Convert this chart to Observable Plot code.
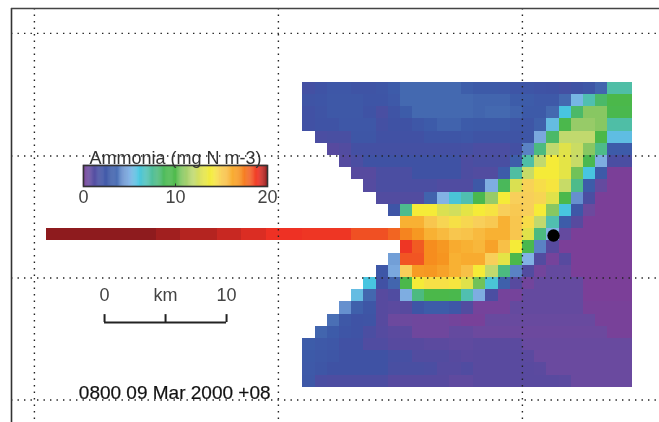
<!DOCTYPE html>
<html>
<head>
<meta charset="utf-8">
<script src="https://cdn.jsdelivr.net/npm/d3@7"></script>
<script src="https://cdn.jsdelivr.net/npm/@observablehq/plot@0.6"></script>
<style>
html,body{margin:0;padding:0;background:#fff;overflow:hidden}
#wrap{position:relative;width:659px;height:422px;filter:blur(.45px)}
#wrap svg{position:absolute;background:transparent;display:block}
</style>
</head>
<body>
<div id="wrap"></div>
<script>
const n = null;
// ammonia concentration (mg N m-3) per 1 km cell; 27 columns
const row00=[1.8,2.1,2.5,2.5,2.2,2.2,2.4,2.9,3.6,3.6,3.6,3.6,3.6,3.1,2.8,2.8,2.7,2.3,2.3,2.1,2.0,1.8,2.0,2.4,3.4,7.2,7.2];
const row01=[2.2,2.3,2.6,2.6,2.6,2.3,2.3,2.7,3.6,3.6,3.6,3.6,3.6,3.6,3.4,3.4,3.4,3.0,3.0,2.7,2.7,3.6,5.2,7.0,8.5,9.8,9.8];
const row02=[1.9,2.2,2.6,2.6,2.6,2.1,1.6,2.2,3.0,3.6,3.6,3.6,3.6,3.6,3.4,3.6,3.6,3.3,2.8,2.8,3.6,6.0,8.5,10.8,10.8,9.2,9.2];
const row03=[1.9,2.1,2.1,2.5,2.5,2.5,1.8,2.0,2.0,2.5,2.9,3.3,3.3,2.9,2.8,2.8,2.8,2.4,2.4,3.2,5.5,9.5,11,11,10.8,7.2,7.2];
const row04=[n,1.5,1.6,1.6,2.4,2.4,1.9,1.9,1.9,1.9,2.3,2.3,2.3,2.5,2.2,2.2,2.2,2.2,2.4,4.8,8.5,12,12,12,10,5.6,5.6];
const row05=[n,n,1,1.2,1.8,1.8,1.8,1.8,1.8,1.8,1.8,1.8,1.8,1.7,1.5,1.5,1.5,1.8,4,8,12,13,12.3,10.8,7.8,2.9,2.9];
const row06=[n,n,n,1.1,1.5,2,2,2,2,2,2,2,2,1.4,1.6,1.6,1.6,3.1,7.2,12,14,13.2,12.2,9,4.9,1.5,1.5];
const row07=[n,n,n,n,1,1,1.5,1.5,1.5,2,2,2,2,1.4,1.2,1.2,3,7.3,12.2,14,14,13.2,10.5,6,2.8,0,0];
const row08=[n,n,n,n,n,1.1,1.5,1.5,1.5,1.5,1.5,1.3,1.3,1.3,2.6,4.9,8.8,12.8,14.9,14.5,14.2,12.2,7.8,3,.7,0,0];
const row09=[n,n,n,n,n,n,1.2,1.2,1.2,1.2,3.3,5,6.2,7,9.3,11,14,15,15,14.8,13,9.5,4.3,1.5,0,0,0];
const row10=[n,n,n,n,n,n,n,2.3,7.7,14,14,12.8,12.5,13.2,14,14.3,15,15.2,15,14,10.8,6,2.5,.5,0,0,0];
const row11=[n,n,n,n,n,n,n,n,16,16,15.3,14.8,14.4,14.7,15,15.2,16,15.3,14.5,12,7,3,1,0,0,0,0];
const row12=[18.9,18.9,18.9,18.9,18.4,18.4,18.4,18,17.3,16.8,16,15.7,15.3,15.4,15.7,16,16,15.3,13,8,5,.7,0,0,0,0,0];
const row13=[n,n,n,n,n,n,n,n,18.9,18.2,17.1,16.8,16.2,16,15.8,16.5,15.5,14,9.3,4,1,0,0,0,0,0,0];
const row14=[n,n,n,n,n,n,n,4.6,18.3,18.3,17.1,16.9,16,16.2,16.2,15,13.2,9.5,5,1.2,.2,1,0,0,0,0,0];
const row15=[n,n,n,n,n,n,2.5,4.8,15,16.7,16.8,16.5,16,15.5,14,12,8,4,1.2,.3,.7,.7,0,0,0,0,0];
const row16=[n,n,n,n,n,6,1.9,3.4,9.8,14,14.4,14.4,14.2,13,10.5,6.2,3.2,1,.3,.7,.7,.7,.7,0,0,0,0];
const row17=[n,n,n,n,5.5,3.5,1,1.3,4.9,8,9.7,9.7,9.4,7,4.9,1.5,.2,.2,.7,.7,.7,.7,.7,0,0,0,0];
const row18=[n,n,n,4.3,3.2,2.4,1,.9,1,2.3,3,3,2.5,1.2,.2,.2,.2,.7,.7,.7,.7,.7,.7,.1,.1,.1,.1];
const row19=[n,n,3.7,2.6,2.1,2.2,1,.5,.5,.4,.4,.4,.25,.1,.1,.6,.6,.6,.6,.6,.6,.6,.6,.6,.1,.1,.1];
const row20=[n,3.4,2.9,2.3,2.1,1.5,1.1,.9,.9,.4,.4,.4,.7,.7,.5,.5,.5,.5,.5,.5,.5,.5,.5,.5,.5,.1,.1];
const row21=[3,2.7,2.5,1.9,1.9,1.3,1.3,1,1,1,.9,.9,.8,.8,.9,.9,.9,.9,.6,.6,.6,.6,.6,.6,.6,.6,.6];
const row22=[2.8,2.6,2.4,2,2,2,2,1.7,1.7,1.2,1.2,1.2,1,.9,.95,.95,.95,.95,.9,.55,.55,.55,.55,.55,.55,.55,.55];
const row23=[2.7,2.4,2,2,2,2,2,1.6,1.6,1.6,1.5,1.1,1.1,1.3,.95,.95,.95,.95,.95,.9,.55,.55,.55,.55,.55,.55,.55];
const row24=[2.6,1.5,1.4,1.4,1.4,1.4,1.4,1,1,1,1,1,.8,.8,.95,.95,.95,.95,.95,.95,.95,.9,.55,.55,.55,.55,.55];
const rows=[row00,row01,row02,row03,row04,row05,row06,row07,row08,row09,row10,row11,row12,row13,row14,row15,row16,row17,row18,row19,row20,row21,row22,row23,row24];

// the outfall channel that runs west along row 12 (columns -21 to -1)
const channelValues=[20,20,20,20,20,20,20,20,20,19.8,19.8,19.6,19.6,19.6,19.4,19.4,19.2,19.2,19,19,19];
const channelRow=12;

// colour bar
const colorStops=[0,.55,1,2,3,3.6,4,5,6,7,8,9,10,11,12,13,14,15,16,17,18,19,20];
const colorHexes=["#7b3f98","#6a4a9f","#574a9f","#3f52a4","#3d5ca9","#4469b0","#5a82c4","#82b2e4","#48c5e0","#50bfb0","#4cba80","#4ab850","#4bb848","#97cb68","#c1d96e","#e0e24a","#f5eb38","#f8cf5a","#f8b133","#f6921e","#f26522","#ee3124","#8e1b1e"];
const legendTicks=[0,10,20];
const legendTitle="Ammonia (mg N m-3)";
const scaleKm=[0,5,10];
const scaleLabels=["0","km","10"];
const stamp="0800 09 Mar 2000 +08";
const gridXs=[-22,-2,18];
const gridYs=[-4,6.05,16.05,26.05];
const station=[{x:20.55,y:12.57}];

const cells=[];
rows.forEach((r,j)=>r.forEach((v,i)=>{if(v!=null)cells.push({x:i,y:j,v});}));
channelValues.forEach((v,k)=>cells.push({x:k-channelValues.length,y:channelRow,v}));

const FONT='"Liberation Sans",Arimo,Helvetica,Arial,sans-serif';
const color={type:"linear",domain:colorStops,range:colorHexes,clamp:true};
const KM=12.2, X0=302.3, Y0=81.7, W=659, H=422;
const xDomain=[-X0/KM,(W-X0)/KM], yDomain=[(H-Y0)/KM,-Y0/KM];
const frameLeft=(11-X0)/KM, frameTop=(8-Y0)/KM;
const barOrigin=-16.25, barY=19.7;

const main=Plot.plot({
  width:W,height:H,margin:0,
  x:{domain:xDomain,axis:null},
  y:{domain:yDomain,axis:null},
  color,
  style:{fontFamily:FONT,background:"transparent"},
  marks:[
    Plot.rect(cells,{x1:"x",x2:d=>d.x+1,y1:"y",y2:d=>d.y+1,fill:"v",shapeRendering:"crispEdges"}),
    Plot.ruleX(gridXs,{y1:frameTop,y2:yDomain[0],stroke:"#222",strokeWidth:1.4,strokeDasharray:"1.4 5.1"}),
    Plot.ruleY(gridYs,{x1:frameLeft,x2:xDomain[1],stroke:"#222",strokeWidth:1.4,strokeDasharray:"1.4 5.1"}),
    Plot.ruleX([frameLeft],{y1:frameTop,y2:yDomain[0],stroke:"#333",strokeWidth:1.6}),
    Plot.ruleY([frameTop],{x1:frameLeft,x2:xDomain[1],stroke:"#444",strokeWidth:1.4}),
    Plot.dot(station,{x:"x",y:"y",r:6.2,fill:"#000"}),
    Plot.ruleY([barY],{x1:barOrigin,x2:barOrigin+10,stroke:"#222",strokeWidth:2}),
    Plot.ruleX(scaleKm,{x:d=>barOrigin+d,y1:barY-.65,y2:barY,stroke:"#222",strokeWidth:2}),
    Plot.text(scaleKm,{x:d=>barOrigin+d,y:barY-2.2,text:(d,i)=>scaleLabels[i],fontSize:18,fill:"#444",letterSpacing:"2px"}),
    Plot.text([stamp],{x:-10.5,y:25.45,text:d=>d,fontSize:19,fill:"#111",stroke:"#111",strokeWidth:.2,textAnchor:"middle"})
  ]
});
main.style.left="0";main.style.top="0";

const legendSteps=d3.range(0,200).map(i=>i/10);
const legend=Plot.plot({
  width:224,height:64,
  marginLeft:20,marginRight:20,marginTop:21,marginBottom:22,
  x:{domain:[0,20],axis:null},
  y:{domain:[0,1],axis:null},
  color,
  style:{fontFamily:FONT,background:"transparent",overflow:"visible"},
  marks:[
    Plot.rect(legendSteps,{x1:d=>d,x2:d=>d+.1,y1:0,y2:1,fill:d=>d,stroke:d=>d,strokeWidth:.3}),
    Plot.ruleX([10],{y1:0,y2:.12,stroke:"#333",strokeWidth:1}),
    Plot.frame({stroke:"#333",strokeWidth:1.6}),
    Plot.axisX(legendTicks,{tickSize:0,tickPadding:4,fontSize:18,fill:"#444",label:null,tickFormat:d=>String(d)}),
    Plot.text([legendTitle],{x:10,frameAnchor:"top",dy:-14,text:d=>d,fontSize:18,fill:"#333"})
  ]
});
legend.style.left="63px";legend.style.top="144px";

const wrap=document.getElementById("wrap");
wrap.append(main,legend);
</script>
</body>
</html>
